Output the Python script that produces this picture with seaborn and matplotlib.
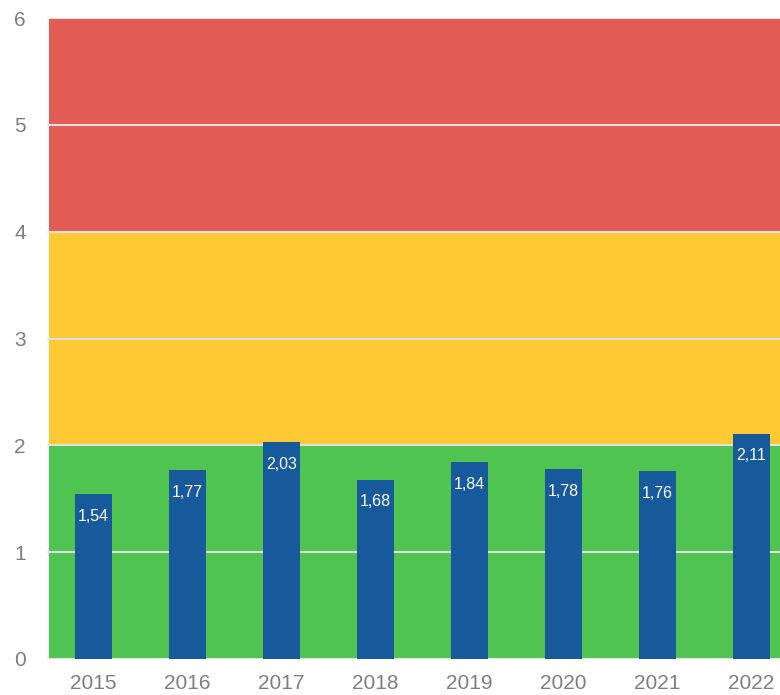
import matplotlib
matplotlib.use('Agg')
import matplotlib.pyplot as plt
import seaborn as sns
import pandas as pd

years = ['2015', '2016', '2017', '2018', '2019', '2020', '2021', '2022']
values = [1.54, 1.77, 2.03, 1.68, 1.84, 1.78, 1.76, 2.11]
bands = [(0, 2, '#50C450'), (2, 4, '#FFC933'), (4, 6, '#E35D54')]

df = pd.DataFrame({'year': years, 'value': values})

sns.set_style('white')
plt.rcParams['font.family'] = ['Liberation Sans', 'DejaVu Sans']

fig = plt.figure(figsize=(7.8, 6.95), dpi=100)
ax = fig.add_axes([46.5 / 780, 36 / 695, 752 / 780, 641 / 695])

for lo, hi, c in bands:
    ax.axhspan(lo + 0.01, hi - 0.01, xmin=0.003, xmax=1, color=c, zorder=0, lw=0)

# light grid lines over the bands, under the bars
for y in range(7):
    ax.axhline(y, color='#e0e0e0', lw=1.5, zorder=1)

sns.barplot(data=df, x='year', y='value', color='#175A9C', width=0.39,
            saturation=1, linewidth=0, ax=ax, zorder=3)

for i, v in enumerate(values):
    ax.annotate(f'{v:.2f}'.replace('.', ','), (i, v), xytext=(0, -16),
                textcoords='offset points', ha='center', va='center',
                color='white', fontsize=11.5, zorder=4)

ax.set_xlim(-0.5, 7.5)
ax.set_ylim(0, 6)
ax.set_yticks(range(7))
ax.set_xlabel('')
ax.set_ylabel('')
sns.despine(ax=ax, left=True, bottom=True, top=True, right=True)
ax.tick_params(axis='both', length=0, labelsize=15, labelcolor='#7f7f7f')
ax.tick_params(axis='y', pad=15)
ax.tick_params(axis='x', pad=11)

fig.savefig('out.png', dpi=100)
